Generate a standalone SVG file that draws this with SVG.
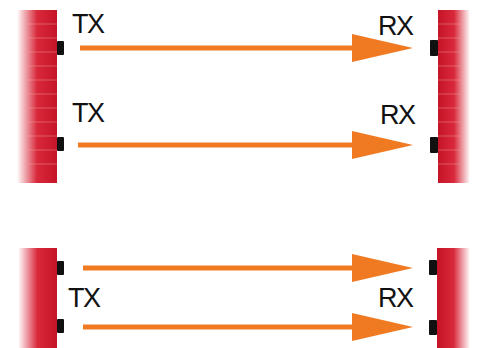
<svg xmlns="http://www.w3.org/2000/svg" width="488" height="348" viewBox="0 0 488 348">
<style>
.lbl{font-family:"Liberation Sans",Arial,sans-serif;font-size:27px;fill:#111;letter-spacing:-1.5px}
.port{fill:#111}
.arr{stroke:#f07a22;stroke-width:5;fill:none}
.head{fill:#f07a22}
.stripe{stroke:#f4a0a0;stroke-width:1;opacity:0.45}
</style>
<defs>
<linearGradient id="gl" x1="0" y1="0" x2="1" y2="0">
<stop offset="0" stop-color="#d8283a" stop-opacity="0"/>
<stop offset="0.5" stop-color="#d8283a"/>
<stop offset="1" stop-color="#c41426"/>
</linearGradient>
<linearGradient id="gr" x1="0" y1="0" x2="1" y2="0">
<stop offset="0" stop-color="#c41426"/>
<stop offset="0.5" stop-color="#d8283a"/>
<stop offset="1" stop-color="#d8283a" stop-opacity="0"/>
</linearGradient>
</defs>
<g id="tx-top">
<rect x="17" y="10" width="40" height="173" fill="url(#gl)"/>
<path class="stripe" d="M24 24H57M24 38H57M24 52H57M24 66H57M24 80H57M24 94H57M24 108H57M24 122H57M24 136H57M24 150H57M24 164H57"/>
<rect class="port" x="57" y="41" width="7" height="14" rx="1"/>
<rect class="port" x="57" y="137" width="7" height="14" rx="1"/>
<text class="lbl" x="72" y="33">TX</text>
<text class="lbl" x="72" y="122">TX</text>
</g>
<g id="rx-top">
<rect x="438" y="10" width="32" height="173" fill="url(#gr)"/>
<path class="stripe" d="M438 24H464M438 38H464M438 52H464M438 66H464M438 80H464M438 94H464M438 108H464M438 122H464M438 136H464M438 150H464M438 164H464"/>
<rect class="port" x="430" y="40" width="8" height="16" rx="1"/>
<rect class="port" x="430" y="137" width="8" height="16" rx="1"/>
<text class="lbl" x="378" y="35">RX</text>
<text class="lbl" x="380" y="124">RX</text>
</g>
<g id="tx-bottom">
<rect x="18" y="248" width="39" height="100" fill="url(#gl)"/>
<rect class="port" x="57" y="261" width="7" height="14" rx="1"/>
<rect class="port" x="57" y="319" width="7" height="14" rx="1"/>
<text class="lbl" x="68" y="307">TX</text>
</g>
<g id="rx-bottom">
<rect x="437" y="248" width="33" height="100" fill="url(#gr)"/>
<rect class="port" x="429" y="260" width="8" height="15" rx="1"/>
<rect class="port" x="429" y="320" width="8" height="15" rx="1"/>
<text class="lbl" x="378" y="307">RX</text>
</g>
<g id="connectors">
<line class="arr" x1="80" y1="48" x2="358" y2="48"/>
<polygon class="head" points="352,34 413,48 352,62"/>
<line class="arr" x1="78" y1="145" x2="358" y2="145"/>
<polygon class="head" points="352,131 413,145 352,159"/>
<line class="arr" x1="83" y1="268" x2="358" y2="268"/>
<polygon class="head" points="352,254 413,268 352,282"/>
<line class="arr" x1="83" y1="327" x2="358" y2="327"/>
<polygon class="head" points="352,313 413,327 352,341"/>
</g>
</svg>
